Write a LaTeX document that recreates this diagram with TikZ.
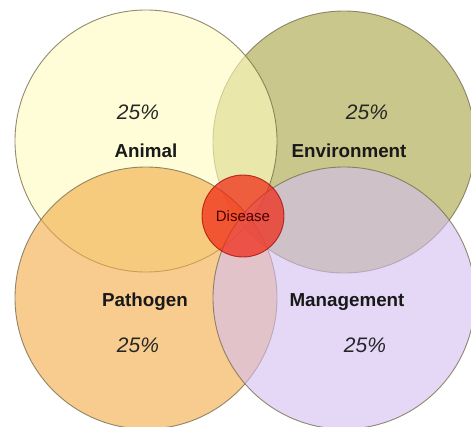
\documentclass[tikz,border=0pt]{standalone}
\usepackage{fontspec}
\setmainfont{Liberation Sans}
\definecolor{cA}{RGB}{255,253,190}
\definecolor{cE}{RGB}{165,162,63}
\definecolor{cP}{RGB}{243,170,67}
\definecolor{cM}{RGB}{212,190,242}
\definecolor{cD}{RGB}{240,40,20}
\definecolor{edge}{RGB}{120,110,80}
\tikzset{
  venn/.style={circle, minimum size=262pt, inner sep=0pt, fill opacity=0.6, draw=edge, draw opacity=0.8, line width=0.9pt},
  pct/.style={font=\fontsize{21}{24}\selectfont\itshape, text=black!85},
  lbl/.style={font=\fontsize{18.8}{22}\selectfont\bfseries, text=black!90},
  dis/.style={circle, minimum size=82pt, inner sep=0pt, fill=cD, fill opacity=0.72, draw=red!60!black, draw opacity=0.7, line width=0.9pt, text opacity=1, font=\fontsize{15}{17}\selectfont, text=red!30!black}
}
\begin{document}
\begin{tikzpicture}[x=1pt,y=-1pt]
\useasboundingbox (0,0) rectangle (471,426);
\clip (0,0) rectangle (471,426);
\fill[white] (0,0) rectangle (471,426);
\node[venn, fill=cE] (env) at (344,142) {};
\node[venn, fill=cA] (ani) at (146,141) {};
\node[venn, fill=cP] (pat) at (146,298) {};
\node[venn, fill=cM] (man) at (344,298) {};
\node[dis] (dis) at (243,216) {Disease};
\node[pct] (pA) at (138,112) {25\%};
\node[lbl] (lA) at (146,151) {Animal};
\node[pct] (pE) at (367,112) {25\%};
\node[lbl] (lE) at (349,151) {Environment};
\node[lbl] (lP) at (145,302) {Pathogen};
\node[pct] (pP) at (138,345) {25\%};
\node[lbl] (lM) at (347,302) {Management};
\node[pct] (pM) at (365,345) {25\%};
\end{tikzpicture}
\end{document}
